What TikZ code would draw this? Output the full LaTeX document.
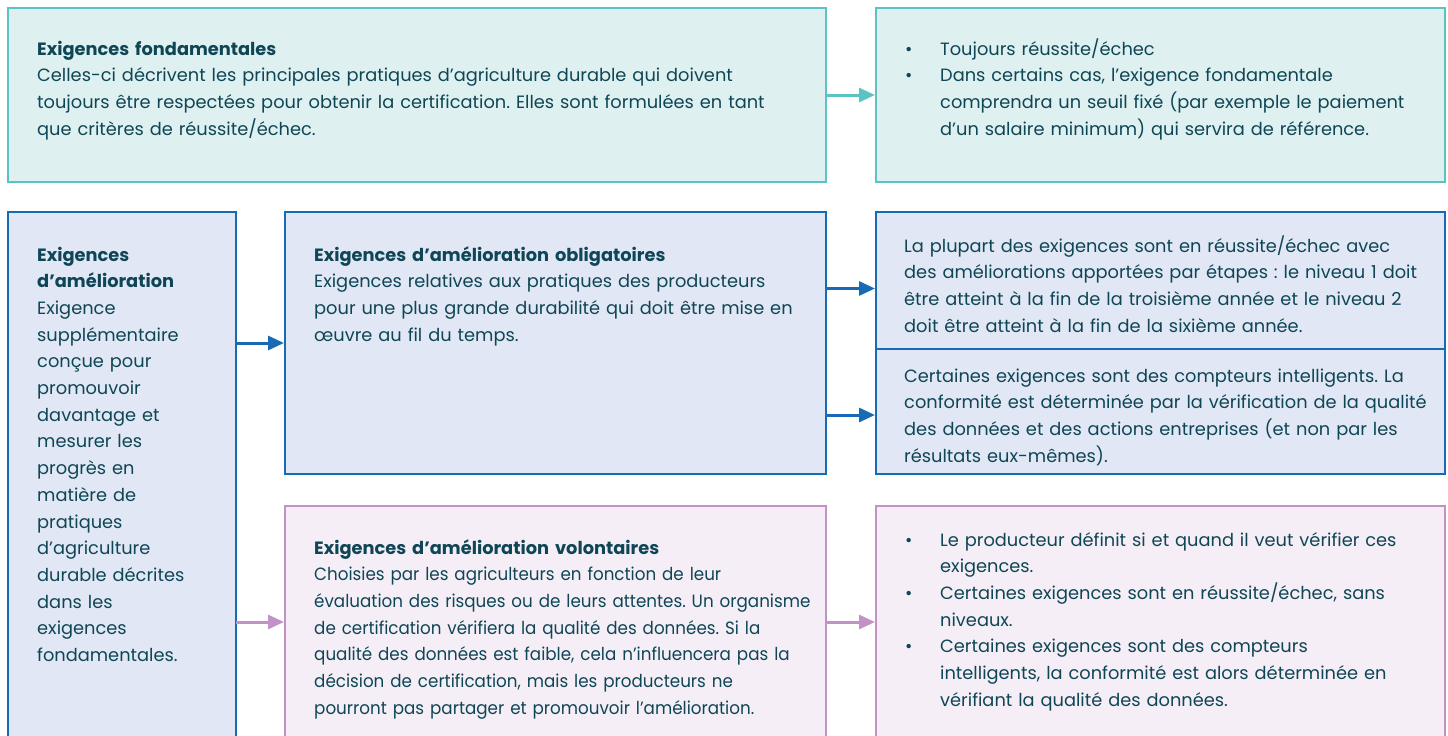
\documentclass[tikz,border=0pt]{standalone}
\usepackage{fontspec}
\setmainfont{Poppins}
\newfontfamily\narrowpop{Poppins}[FakeStretch=0.94]
\usetikzlibrary{arrows.meta,calc}
\definecolor{txt}{HTML}{0F4656}
\definecolor{tealB}{HTML}{5CC3C3}
\definecolor{tealF}{HTML}{DEF0F0}
\definecolor{blueB}{HTML}{176BB5}
\definecolor{blueF}{HTML}{E1E7F4}
\definecolor{pinkB}{HTML}{C291C6}
\definecolor{pinkF}{HTML}{F5EEF6}
\tikzset{
  boxbase/.style={rectangle, line width=2.8pt, inner sep=0pt, outer sep=0pt, anchor=north west},
  tealbox/.style={boxbase, draw=tealB, fill=tealF},
  bluebox/.style={boxbase, draw=blueB, fill=blueF},
  pinkbox/.style={boxbase, draw=pinkB, fill=pinkF},
  txtblock/.style={anchor=base west, inner sep=0pt, text=txt, align=left, text width=#1,
    font=\fontsize{17.8pt}{26.7pt}\selectfont},
  conn/.style={line width=3pt, shorten >=1pt, -{Triangle[length=16pt,width=14pt]}},
}
\newcommand{\bul}{\makebox[35pt][l]{\textbullet}}
\newcommand{\ind}{\hspace*{35pt}}
\frenchspacing
\begin{document}
\begin{tikzpicture}[x=1pt,y=-1pt]
\useasboundingbox (0,0) rectangle (1448,736);
\clip (0,0) rectangle (1448,736);
% boxes
\node[tealbox, minimum width=818pt, minimum height=174pt] (fund) at (8,8) {};
\node[tealbox, minimum width=569pt, minimum height=174pt] (fundr) at (876,8) {};
\node[bluebox, minimum width=228pt, minimum height=560pt] (amel) at (8,212) {};
\node[bluebox, minimum width=541pt, minimum height=262pt] (oblig) at (285,212) {};
\node[bluebox, minimum width=569pt, minimum height=137pt] (obl1) at (876,212) {};
\node[bluebox, minimum width=569pt, minimum height=125pt] (obl2) at (876,349) {};
\node[pinkbox, minimum width=541pt, minimum height=232pt] (vol) at (285,506) {};
\node[pinkbox, minimum width=569pt, minimum height=232pt] (volr) at (876,506) {};
% arrow anchors
\coordinate (a1) at ([yshift=-8pt]obl1.west);
\coordinate (a2) at ([yshift=-3.5pt]obl2.west);
% arrows
\draw[conn, tealB] (fund.east) -- (fundr.west);
\draw[conn, blueB] (amel.east |- oblig.west) -- (oblig.west);
\draw[conn, pinkB] (amel.east |- vol.west) -- (vol.west);
\draw[conn, blueB] (oblig.east |- a1) -- (a1);
\draw[conn, blueB] (oblig.east |- a2) -- (a2);
\draw[conn, pinkB] (vol.east) -- (volr.west);
% texts
\node[txtblock=800pt] (tfund) at (37,55) {\textbf{Exigences fondamentales}\\
Celles-ci décrivent les principales pratiques d’agriculture durable qui doivent\\
toujours être respectées pour obtenir la certification. Elles sont formulées en tant\\
que critères de réussite/échec.};
\node[txtblock=560pt] (tfundr) at (905,55) {\bul Toujours réussite/échec\\
\bul Dans certains cas, l’exigence fondamentale\\
\ind comprendra un seuil fixé (par exemple le paiement\\
\ind d’un salaire minimum) qui servira de référence.};
\node[txtblock=210pt] (tamel) at (37,261) {\textbf{Exigences}\\
\textbf{d’amélioration}\\
Exigence\\
supplémentaire\\
conçue pour\\
promouvoir\\
davantage et\\
mesurer les\\
progrès en\\
matière de\\
pratiques\\
d’agriculture\\
durable décrites\\
dans les\\
exigences\\
fondamentales.};
\node[txtblock=560pt] (toblig) at (314,261) {\textbf{Exigences d’amélioration obligatoires}\\
Exigences relatives aux pratiques des producteurs\\
pour une plus grande durabilité qui doit être mise en\\
œuvre au fil du temps.};
\node[txtblock=560pt] (tobl1) at (904,252) {La plupart des exigences sont en réussite/échec avec\\
des améliorations apportées par étapes : le niveau 1 doit\\
être atteint à la fin de la troisième année et le niveau 2\\
doit être atteint à la fin de la sixième année.};
\node[txtblock=560pt] (tobl2) at (904,382) {Certaines exigences sont des compteurs intelligents. La\\
conformité est déterminée par la vérification de la qualité\\
des données et des actions entreprises (et non par les\\
résultats eux-mêmes).};
\node[txtblock=580pt] (tvol) at (314,554) {\textbf{Exigences d’amélioration volontaires}\\
\narrowpop Choisies par les agriculteurs en fonction de leur\\
évaluation des risques ou de leurs attentes. Un organisme\\
de certification vérifiera la qualité des données. Si la\\
qualité des données est faible, cela n’influencera pas la\\
décision de certification, mais les producteurs ne\\
pourront pas partager et promouvoir l’amélioration.};
\node[txtblock=560pt] (tvolr) at (905,546) {\bul Le producteur définit si et quand il veut vérifier ces\\
\ind exigences.\\
\bul Certaines exigences sont en réussite/échec, sans\\
\ind niveaux.\\
\bul Certaines exigences sont des compteurs\\
\ind intelligents, la conformité est alors déterminée en\\
\ind vérifiant la qualité des données.};
\end{tikzpicture}
\end{document}
